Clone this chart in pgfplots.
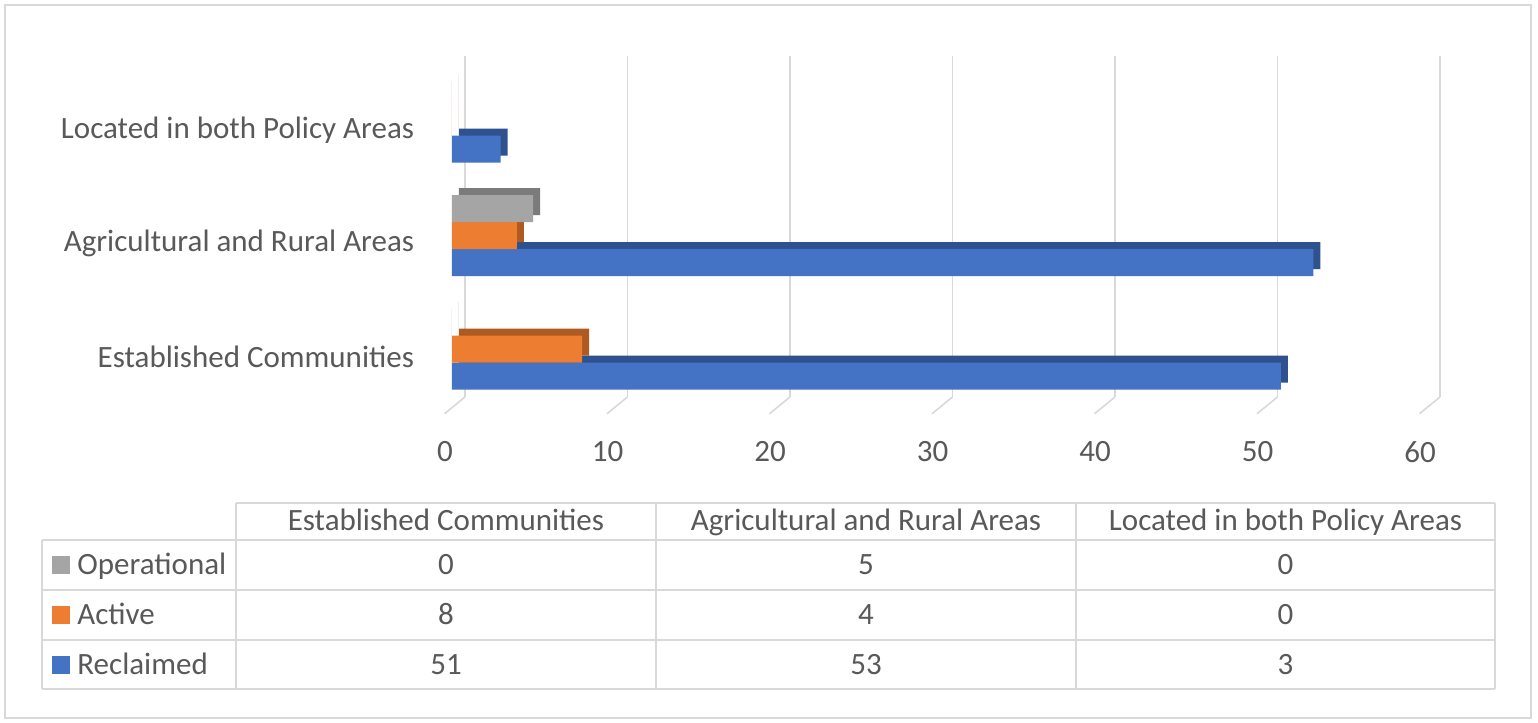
\documentclass[border=0pt]{standalone}
\usepackage{fontspec}
\setmainfont{Carlito}
\usepackage{pgfplots}
\pgfplotsset{compat=1.18}
\definecolor{txt}{HTML}{595959}
\definecolor{gridc}{HTML}{D9D9D9}
\definecolor{cblue}{HTML}{4472C4}
\definecolor{cblueD}{HTML}{2F528F}
\definecolor{corange}{HTML}{ED7D31}
\definecolor{corangeD}{HTML}{AE5A21}
\definecolor{cgrey}{HTML}{A5A5A5}
\definecolor{cgreyD}{HTML}{7B7B7B}
\newcommand{\fs}{\fontsize{15.5pt}{18pt}\selectfont}
\begin{document}
\begin{tikzpicture}
\fill[white] (0,0) rectangle (769pt,-361.5pt);
\draw[gridc, line width=0.8pt] (2.5pt,-2.5pt) rectangle (765.5pt,-359pt);
\begin{axis}[
  at={(226pt,-206.875pt)}, anchor=south west,
  scale only axis, width=487.5pt, height=170.25pt,
  xmin=0, xmax=60, ymin=-0.5, ymax=2.5,
  clip=false,
  axis line style={draw=none},
  tick style={draw=none},
  xtick={0,10,...,60},
  ytick={0,1,2},
  yticklabels={Established Communities, Agricultural and Rural Areas, Located in both Policy Areas},
  xmajorgrids, ymajorgrids=false,
  major grid style={gridc, line width=0.8pt, xshift=6.5pt, yshift=8.4pt},
  tick label style={font=\fs, text=txt},
  /pgf/number format/assume math mode=true,
  yticklabel style={anchor=east, inner sep=0pt, xshift=-14.5pt},
  xticklabel style={anchor=center, inner sep=0pt, xshift=-3.5pt, yshift=-19pt},
  xbar, bar width=13.5pt,
]
\pgfplotsinvokeforeach{0,10,20,30,40,50,60}{
  \draw[gridc, line width=0.8pt] ([xshift=6.5pt,yshift=8.4pt]axis cs:#1,-0.5) -- ([xshift=-3.75pt]axis cs:#1,-0.5);
}
% depth faces
\addplot[fill=cblueD, draw=none, bar shift=-9.5pt, xshift=3.5pt, yshift=3.5pt] coordinates {(51,0) (53,1) (3,2)};
\addplot[fill=corangeD, draw=none, bar shift=4pt, xshift=3.5pt, yshift=3.5pt] coordinates {(8,0) (4,1) (0,2)};
\addplot[fill=cgreyD, draw=none, bar shift=17.5pt, xshift=3.5pt, yshift=3.5pt] coordinates {(0,0) (5,1) (0,2)};
% front faces
\addplot[fill=cblue, draw=none, bar shift=-9.5pt] coordinates {(51,0) (53,1) (3,2)};
\addplot[fill=corange, draw=none, bar shift=4pt] coordinates {(8,0) (4,1) (0,2)};
\addplot[fill=cgrey, draw=none, bar shift=17.5pt] coordinates {(0,0) (5,1) (0,2)};
\end{axis}
% data table
\begin{scope}[gridc, line width=1pt]
\draw (118pt,-251.5pt) -- (747.5pt,-251.5pt);
\draw (21pt,-270pt) -- (747.5pt,-270pt);
\draw (21pt,-295pt) -- (747.5pt,-295pt);
\draw (21pt,-320pt) -- (747.5pt,-320pt);
\draw (21pt,-344.5pt) -- (747.5pt,-344.5pt);
\draw (21pt,-270pt) -- (21pt,-344.5pt);
\draw (118pt,-251.5pt) -- (118pt,-344.5pt);
\draw (328pt,-251.5pt) -- (328pt,-344.5pt);
\draw (538pt,-251.5pt) -- (538pt,-344.5pt);
\draw (747.5pt,-251.5pt) -- (747.5pt,-344.5pt);
\end{scope}
\begin{scope}[every node/.style={font=\fs, text=txt, inner sep=0pt}]
\node[anchor=mid] at (223pt,-263pt) {Established Communities};
\node[anchor=mid] at (433pt,-263pt) {Agricultural and Rural Areas};
\node[anchor=mid] at (642.75pt,-263pt) {Located in both Policy Areas};
% legend keys
\fill[cgrey] (26pt,-278pt) rectangle (35pt,-287pt);
\fill[corange] (26pt,-303pt) rectangle (35pt,-312pt);
\fill[cblue] (26pt,-328pt) rectangle (35pt,-337pt);
\node[anchor=mid west] at (38.5pt,-285pt) {Operational};
\node[anchor=mid west] at (38.5pt,-310pt) {Active};
\node[anchor=mid west] at (38.5pt,-335pt) {Reclaimed};
% values
\node[anchor=mid] at (223pt,-285pt) {0};
\node[anchor=mid] at (433pt,-285pt) {5};
\node[anchor=mid] at (642.75pt,-285pt) {0};
\node[anchor=mid] at (223pt,-310pt) {8};
\node[anchor=mid] at (433pt,-310pt) {4};
\node[anchor=mid] at (642.75pt,-310pt) {0};
\node[anchor=mid] at (223pt,-335pt) {51};
\node[anchor=mid] at (433pt,-335pt) {53};
\node[anchor=mid] at (642.75pt,-335pt) {3};
\end{scope}
\end{tikzpicture}
\end{document}
